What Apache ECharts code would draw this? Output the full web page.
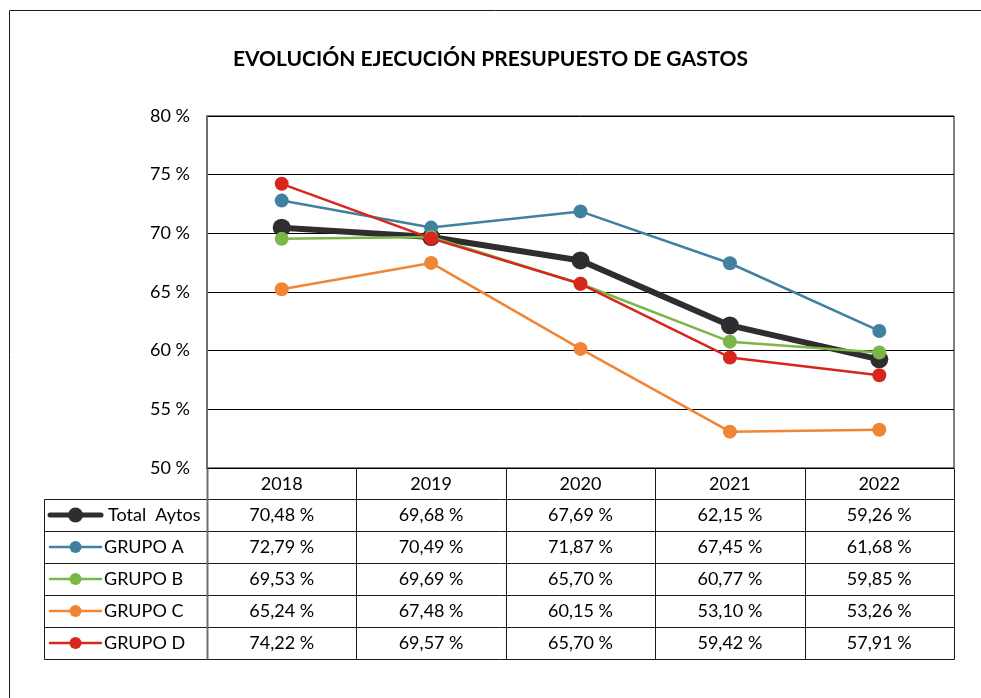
<!DOCTYPE html>
<html><head><meta charset="utf-8">
<script src="https://cdn.jsdelivr.net/npm/echarts@6/dist/echarts.min.js"></script>
<style>html,body{margin:0;padding:0;background:#fff}#c{width:981px;height:698px}</style>
</head><body><div id="c"></div>
<script>
const chartTitle = 'EVOLUCIÓN EJECUCIÓN PRESUPUESTO DE GASTOS';
const years = ['2018', '2019', '2020', '2021', '2022'];
const seriesNames = ['Total  Aytos', 'GRUPO A', 'GRUPO B', 'GRUPO C', 'GRUPO D'];
const totalAytos = [70.48, 69.68, 67.69, 62.15, 59.26];
const grupoA = [72.79, 70.49, 71.87, 67.45, 61.68];
const grupoB = [69.53, 69.69, 65.70, 60.77, 59.85];
const grupoC = [65.24, 67.48, 60.15, 53.10, 53.26];
const grupoD = [74.22, 69.57, 65.70, 59.42, 57.91];
const yMin = 50, yMax = 80, yStep = 5;

const allValues = [totalAytos, grupoA, grupoB, grupoC, grupoD];
const colors = ['#2e2e2e', '#41809f', '#7ab648', '#ef8535', '#d9261c'];
const lineWidths = [6, 2.5, 2.5, 2.5, 2.5];
const symbolSizes = [18, 14, 14, 14, 14];
const legendLineWidths = [5, 2.5, 2.5, 2.5, 2.5];
const legendSymbolSizes = [15, 12, 12, 12, 12];
const FONT = 'Lato, "Open Sans", sans-serif';
const FS = 18;
const ROW_H = 32;
const TABLE_LEFT = 44;

const chart = echarts.init(document.getElementById('c'), null, {renderer: 'canvas'});

const fmt = v => v.toFixed(2).replace('.', ',') + ' %';

chart.setOption({
  animation: false,
  backgroundColor: '#fff',
  textStyle: {fontFamily: FONT},
  title: {
    text: chartTitle, left: 'center', top: 44,
    textStyle: {fontFamily: FONT, fontSize: 21, fontWeight: 'bold', color: '#000'}
  },
  grid: {left: 207, right: 27, top: 116, bottom: 230, show: true, borderColor: '#000', borderWidth: 1, containLabel: false},
  xAxis: {
    type: 'category', data: years, boundaryGap: true,
    axisLine: {show: true, lineStyle: {color: '#000', width: 1}},
    axisTick: {show: false},
    axisLabel: {fontFamily: FONT, fontSize: FS, color: '#000', margin: 7}
  },
  yAxis: {
    type: 'value', min: yMin, max: yMax, interval: yStep,
    axisLine: {show: true, lineStyle: {color: '#6f6f6f', width: 2}},
    axisTick: {show: false},
    axisLabel: {fontFamily: FONT, fontSize: FS, color: '#000', margin: 17, formatter: '{value} %'},
    splitLine: {show: true, lineStyle: {color: '#000', width: 1}}
  },
  series: seriesNames.map((n, i) => ({
    name: n, type: 'line', data: allValues[i],
    symbol: 'circle', symbolSize: symbolSizes[i],
    lineStyle: {color: colors[i], width: lineWidths[i]},
    itemStyle: {color: colors[i]},
    z: 2 + i
  }))
});

function buildTable() {
  const p0 = chart.convertToPixel({xAxisIndex: 0}, years[0]);
  const p1 = chart.convertToPixel({xAxisIndex: 0}, years[1]);
  const band = p1 - p0;
  const colLeft = p0 - band / 2;
  const bounds = years.map((y, i) => colLeft + i * band).concat([colLeft + years.length * band]);
  const yBottom = chart.convertToPixel({yAxisIndex: 0}, yMin);
  const rightX = bounds[bounds.length - 1];
  const headerBottom = yBottom + 31;
  const rowTops = seriesNames.map((n, i) => headerBottom + i * ROW_H);
  const tableBottom = headerBottom + seriesNames.length * ROW_H;
  const els = [];
  const ls = {stroke: '#1a1a1a', lineWidth: 1};
  const r = v => Math.round(v) + 0.5;
  // horizontal lines
  els.push({type: 'line', shape: {x1: TABLE_LEFT + 0.5, y1: r(headerBottom), x2: r(rightX), y2: r(headerBottom)}, style: ls, z: 50});
  rowTops.forEach((t, i) => {
    els.push({type: 'line', shape: {x1: TABLE_LEFT + 0.5, y1: r(t + ROW_H), x2: r(rightX), y2: r(t + ROW_H)}, style: ls, z: 50});
  });
  // vertical lines
  els.push({type: 'line', shape: {x1: TABLE_LEFT + 0.5, y1: r(headerBottom), x2: TABLE_LEFT + 0.5, y2: r(tableBottom)}, style: ls, z: 50});
  els.push({type: 'line', shape: {x1: r(bounds[0]), y1: r(yBottom), x2: r(bounds[0]), y2: r(tableBottom)}, style: {stroke: '#6f6f6f', lineWidth: 2}, z: 50});
  bounds.slice(1).forEach(b => {
    els.push({type: 'line', shape: {x1: r(b), y1: r(yBottom), x2: r(b), y2: r(tableBottom)}, style: ls, z: 50});
  });
  // legend keys + names
  const keyX1 = TABLE_LEFT + 6, keyX2 = TABLE_LEFT + 57;
  seriesNames.forEach((n, si) => {
    const cy = rowTops[si] + ROW_H / 2;
    els.push({type: 'line', shape: {x1: keyX1, y1: cy, x2: keyX2, y2: cy}, style: {stroke: colors[si], lineWidth: legendLineWidths[si], lineCap: 'round'}, z: 51});
    els.push({type: 'circle', shape: {cx: (keyX1 + keyX2) / 2, cy: cy, r: legendSymbolSizes[si] / 2}, style: {fill: colors[si]}, z: 52});
    els.push({type: 'text', x: keyX2 + (si === 0 ? 7 : 3), y: cy,
      style: {text: n, font: FS + 'px ' + FONT, fill: '#000', align: 'left', verticalAlign: 'middle'}, z: 52});
  });
  // values
  allValues.forEach((vals, si) => {
    vals.forEach((v, ci) => {
      els.push({type: 'text', x: colLeft + (ci + 0.5) * band, y: rowTops[si] + ROW_H / 2,
        style: {text: fmt(v), font: FS + 'px ' + FONT, fill: '#000', align: 'center', verticalAlign: 'middle'}, z: 50});
    });
  });
  // outer frame
  els.push({type: 'line', shape: {x1: 9.5, y1: 10.5, x2: 981, y2: 10.5}, style: {stroke: '#1a1a1a', lineWidth: 1}, z: 50});
  els.push({type: 'line', shape: {x1: 9.5, y1: 10.5, x2: 9.5, y2: 698}, style: {stroke: '#1a1a1a', lineWidth: 1}, z: 50});
  chart.setOption({graphic: {elements: els}});
}
buildTable();
</script>
</body></html>
